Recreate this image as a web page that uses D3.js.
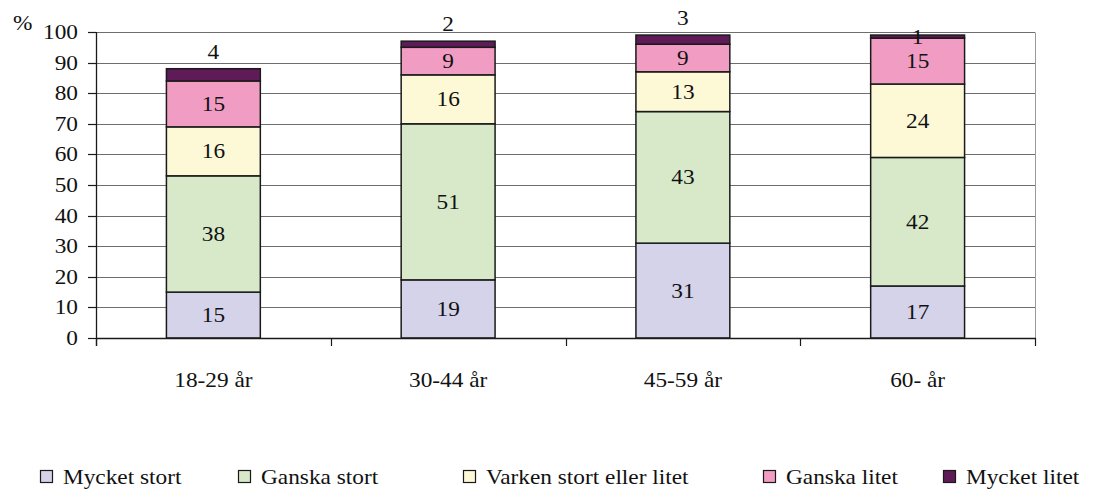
<!DOCTYPE html>
<html>
<head>
<meta charset="utf-8">
<script src="https://cdn.jsdelivr.net/npm/d3@7/dist/d3.min.js"></script>
<style>
  html, body { margin: 0; padding: 0; background: #fff; }
  svg { display: block; }
  text { font-family: "Liberation Serif", "Times New Roman", serif; fill: #111; }
</style>
</head>
<body>
<svg id="chart" width="1107" height="490"></svg>
<script>
// ---- data ----
const categories = ["18-29 år", "30-44 år", "45-59 år", "60- år"];
const seriesNames = ["Mycket stort", "Ganska stort", "Varken stort eller litet", "Ganska litet", "Mycket litet"];
const mycketStort  = [15, 19, 31, 17];
const ganskaStort  = [38, 51, 43, 42];
const varken       = [16, 16, 13, 24];
const ganskaLitet  = [15, 9, 9, 15];
const mycketLitet  = [4, 2, 3, 1];
const yTicks = [0, 10, 20, 30, 40, 50, 60, 70, 80, 90, 100];

// ---- style / layout ----
const colors = ["#d5d3e9", "#d7e9c9", "#fdf9d6", "#f19dc3", "#5f1b58"];
const topLabelAbove = [true, true, true, false];
const legendX = [40, 238, 463, 763, 943];
const FS = 21, SX = 1.11;

const svg = d3.select("#chart");
const pL = 96, pR = 1035, pT = 32, pB = 338;

const x = d3.scaleBand().domain(categories).range([pL, pR]).paddingInner(0.6).paddingOuter(0.3);
const y = d3.scaleLinear().domain([0, 100]).range([pB, pT]);

function stretchText(g, tx, ty, str, anchor) {
  return g.append("text")
    .attr("transform", `translate(${tx},${ty}) scale(${SX},1)`)
    .attr("text-anchor", anchor || "middle")
    .style("font-size", FS + "px")
    .text(str);
}

// gridlines
svg.append("g").selectAll("line").data(yTicks.filter(d => d > 0)).join("line")
  .attr("x1", pL).attr("x2", pR)
  .attr("y1", d => Math.round(y(d)) + 0.5).attr("y2", d => Math.round(y(d)) + 0.5)
  .attr("stroke", "#6e6e6e").attr("stroke-width", 1);
// right border
svg.append("line").attr("x1", pR + 0.5).attr("x2", pR + 0.5)
  .attr("y1", Math.round(y(100)) + 0.5).attr("y2", pB)
  .attr("stroke", "#9a9a9a");

// stacked data
const rows = categories.map((c, i) => ({
  cat: c,
  "Mycket stort": mycketStort[i],
  "Ganska stort": ganskaStort[i],
  "Varken stort eller litet": varken[i],
  "Ganska litet": ganskaLitet[i],
  "Mycket litet": mycketLitet[i]
}));
const stacked = d3.stack().keys(seriesNames)(rows);

const gBars = svg.append("g");
stacked.forEach((layer, si) => {
  gBars.append("g").selectAll("rect").data(layer).join("rect")
    .attr("x", d => x(d.data.cat))
    .attr("width", x.bandwidth())
    .attr("y", d => y(d[1]))
    .attr("height", d => y(d[0]) - y(d[1]))
    .attr("fill", colors[si])
    .attr("stroke", "#1a1a1a").attr("stroke-width", 1.5);
});

// value labels
const gLab = svg.append("g");
stacked.forEach((layer, si) => {
  layer.forEach((d, ci) => {
    const v = d[1] - d[0];
    const cx = x(d.data.cat) + x.bandwidth() / 2;
    let cy = (y(d[0]) + y(d[1])) / 2;
    if (si === seriesNames.length - 1 && topLabelAbove[ci]) cy = y(d[1]) - 17;
    stretchText(gLab, cx, cy + 7, String(v), "middle");
  });
});

// x axis
const xAxisY = pB;
svg.append("line").attr("x1", pL).attr("x2", pR + 1).attr("y1", xAxisY + 0.5).attr("y2", xAxisY + 0.5)
  .attr("stroke", "#1a1a1a").attr("stroke-width", 1.3);
const catBounds = d3.range(categories.length + 1).map(i => pL + i * (pR - pL) / categories.length);
svg.append("g").selectAll("line").data(catBounds).join("line")
  .attr("x1", d => Math.round(d) + 0.5).attr("x2", d => Math.round(d) + 0.5)
  .attr("y1", xAxisY).attr("y2", xAxisY + 8)
  .attr("stroke", "#1a1a1a").attr("stroke-width", 1.2);
categories.forEach(c => stretchText(svg, x(c) + x.bandwidth() / 2, 387, c, "middle"));

// y axis
svg.append("line").attr("x1", pL + 0.5).attr("x2", pL + 0.5).attr("y1", pT).attr("y2", xAxisY + 8)
  .attr("stroke", "#1a1a1a").attr("stroke-width", 1.3);
svg.append("g").selectAll("line").data(yTicks).join("line")
  .attr("x1", pL - 8).attr("x2", pL)
  .attr("y1", d => Math.round(y(d)) + 0.5).attr("y2", d => Math.round(y(d)) + 0.5)
  .attr("stroke", "#1a1a1a").attr("stroke-width", 1.2);
yTicks.forEach(t => stretchText(svg, 78, y(t) + 7, String(t), "end"));
stretchText(svg, 13, 30, "%", "start");

// legend
const gLeg = svg.append("g");
seriesNames.forEach((s, i) => {
  gLeg.append("rect").attr("x", legendX[i] + 0.5).attr("y", 470.5).attr("width", 12).attr("height", 12)
    .attr("fill", colors[i]).attr("stroke", "#1a1a1a").attr("stroke-width", 1.2);
  stretchText(gLeg, legendX[i] + 23, 484, s, "start");
});
</script>
</body>
</html>
